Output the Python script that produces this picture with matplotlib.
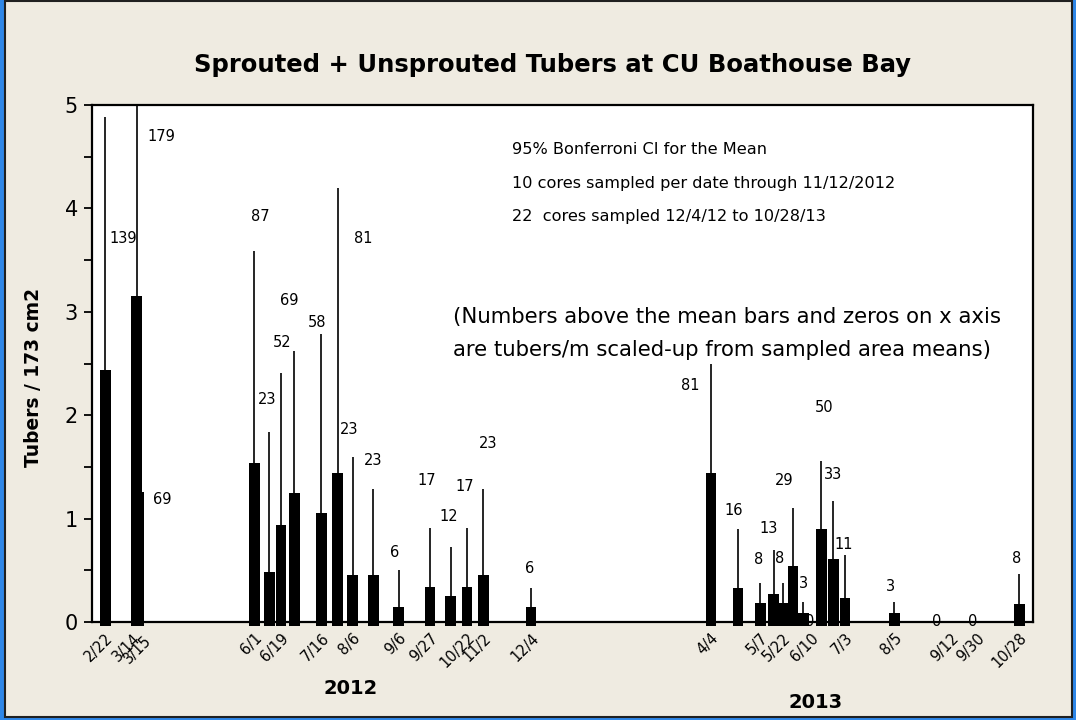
import matplotlib
matplotlib.use("Agg")
import matplotlib.pyplot as plt
import matplotlib.dates as mdates
from matplotlib.patches import Rectangle
from matplotlib.ticker import MultipleLocator
from matplotlib.transforms import ScaledTranslation
import pandas as pd

# ---------------- data ----------------
dates = ['2012-02-22', '2012-03-14', '2012-03-15', '2012-06-01', '2012-06-11',
         '2012-06-19', '2012-06-28', '2012-07-16', '2012-07-27', '2012-08-06',
         '2012-08-20', '2012-09-06', '2012-09-27', '2012-10-11', '2012-10-22',
         '2012-11-02', '2012-12-04', '2013-04-04', '2013-04-22', '2013-05-07',
         '2013-05-16', '2013-05-22', '2013-05-29', '2013-06-05', '2013-06-10',
         '2013-06-17', '2013-06-25', '2013-07-03', '2013-08-05', '2013-09-12',
         '2013-09-30', '2013-10-28']
means = [2.44, 3.15, 1.26, 1.54, 0.48, 0.94, 1.25, 1.05, 1.44, 0.45,
         0.45, 0.145, 0.34, 0.25, 0.34, 0.45, 0.145, 1.44, 0.33, 0.18,
         0.27, 0.18, 0.54, 0.084, 0.0, 0.90, 0.61, 0.23, 0.084, 0.0,
         0.0, 0.174]
ci_upper = [4.88, 5.6, 2.5, 3.59, 1.84, 2.41, 2.62, 2.79, 4.20, 1.60,
            1.29, 0.50, 0.91, 0.73, 0.91, 1.29, 0.33, 2.50, 0.90, 0.374,
            0.70, 0.374, 1.10, 0.197, 0.0, 1.557, 1.173, 0.648, 0.197, 0.0,
            0.0, 0.464]
count_labels = ['139', '179', '69', '87', '23', '52', '69', '58', '81', '23',
                '23', '6', '17', '12', '17', '23', '6', '81', '16', '8',
                '13', '8', '29', '3', '0', '50', '33', '11', '3', '0',
                '0', '8']
# label placement (days offset from the sample date, value on y axis)
label_dx_days = [11.6, 16.5, 16.0, 4.3, -1.7, 0.4, -3.5, -2.7, 17.3, -2.1,
                 0.0, -2.4, -2.2, -1.1, -1.9, 2.8, -0.7, -14.2, -2.6, -0.8,
                 -3.5, -1.7, -5.8, 0.4, -0.5, 1.9, 0.0, -1.1, -2.3, -9.4,
                 -3.2, -1.6]
label_y = [3.71, 4.70, 1.18, 3.92, 2.15, 2.70, 3.11, 2.90, 3.71, 1.86,
           1.56, 0.67, 1.37, 1.02, 1.31, 1.73, 0.52, 2.29, 1.08, 0.60,
           0.90, 0.61, 1.37, 0.37, 0.0, 2.07, 1.43, 0.75, 0.34, 0.0,
           0.0, 0.61]

tick_dates = ['2012-02-22', '2012-03-14', '2012-03-15', '2012-06-01', '2012-06-19',
              '2012-07-16', '2012-08-06', '2012-09-06', '2012-09-27', '2012-10-22',
              '2012-11-02', '2012-12-04', '2013-04-04', '2013-05-07', '2013-05-22',
              '2013-06-10', '2013-07-03', '2013-08-05', '2013-09-12', '2013-09-30',
              '2013-10-28']
tick_labels = ['2/22', '3/14', '3/15', '6/1', '6/19', '7/16', '8/6', '9/6', '9/27',
               '10/22', '11/2', '12/4', '4/4', '5/7', '5/22', '6/10', '7/3', '8/5',
               '9/12', '9/30', '10/28']

title = 'Sprouted + Unsprouted Tubers at CU Boathouse Bay'
ylabel = 'Tubers / 173 cm2'
notes_top = ['95% Bonferroni CI for the Mean',
             '10 cores sampled per date through 11/12/2012',
             '22  cores sampled 12/4/12 to 10/28/13']
notes_mid = ['(Numbers above the mean bars and zeros on x axis',
             'are tubers/m scaled-up from sampled area means)']

# ---------------- figure ----------------
W, H = 1076, 720
BG = '#EFEBE1'
fig = plt.figure(figsize=(W / 100, H / 100), dpi=100, facecolor=BG)


def fx(px):
    return px / W


def fy(py):
    return 1 - py / H


ax = fig.add_axes([fx(92), fy(622), fx(1033) - fx(92), fy(105) - fy(622)])
ax.set_facecolor('white')

x = mdates.date2num(pd.to_datetime(dates).to_pydatetime())
x0 = mdates.date2num(pd.Timestamp('2012-02-22').to_pydatetime())

# bars reach slightly below the axis line, as in the reference (zero means: no bar)
below = 0.035
heights = [m + below if m > 0 else 0 for m in means]
bottoms = [-below if m > 0 else 0 for m in means]
ax.bar(x, heights, bottom=bottoms, width=7.2, color='black',
       edgecolor='black', linewidth=0, align='center', clip_on=False, zorder=2)
ax.vlines(x, means, ci_upper, colors='black', linewidth=1.2, zorder=3)

for xi, lab, dx, ly in zip(x, count_labels, label_dx_days, label_y):
    ax.text(xi + dx, ly, lab, ha='center', va='center', fontsize=10.5,
            color='black', zorder=4, clip_on=False)

ax.set_xlim(x0 - 9.07, x0 + 623.3)
ax.set_ylim(0, 5)

tx = mdates.date2num(pd.to_datetime(tick_dates).to_pydatetime())
ax.set_xticks(tx)
ax.set_xticklabels(tick_labels, rotation=45, ha='right', va='top',
                   rotation_mode='anchor', fontsize=10.5)
ax.tick_params(axis='x', length=0, pad=6)
# separate the two crowded March labels a little
xt = ax.get_xticklabels()
xt[1].set_transform(xt[1].get_transform() + ScaledTranslation(-4 / 100, 0, fig.dpi_scale_trans))
xt[2].set_transform(xt[2].get_transform() + ScaledTranslation(5 / 100, -2 / 100, fig.dpi_scale_trans))

ax.yaxis.set_major_locator(MultipleLocator(1))
ax.yaxis.set_minor_locator(MultipleLocator(0.5))
ax.tick_params(axis='y', which='both', direction='out', length=6, width=1.3,
               labelsize=15, pad=4)
ax.set_ylabel(ylabel, fontsize=13.4, fontweight='bold')
ax.yaxis.set_label_coords((43 - 92) / (1033 - 92), (622 - 377) / (622 - 105))

for sp in ax.spines.values():
    sp.set_linewidth(1.6)
    sp.set_color('black')

# title and annotations
fig.text(fx(552), fy(65), title, ha='center', va='center', fontsize=17.5,
         fontweight='bold')
for i, s in enumerate(notes_top):
    fig.text(fx(512), fy(150 + 33.5 * i), s, ha='left', va='center', fontsize=11.6)
for i, s in enumerate(notes_mid):
    fig.text(fx(453), fy(317 + 33.5 * i), s, ha='left', va='center', fontsize=15.3)
fig.text(fx(351), fy(688), '2012', ha='center', va='center', fontsize=14,
         fontweight='bold')
fig.text(fx(816), fy(703), '2013', ha='center', va='center', fontsize=14,
         fontweight='bold')

# window frame
blue = '#2F87E8'
fig.patches.append(Rectangle((0, 0), fx(4), 1, transform=fig.transFigure,
                             facecolor=blue, edgecolor='none', zorder=0))
fig.patches.append(Rectangle((fx(1072), 0), fx(4), 1, transform=fig.transFigure,
                             facecolor=blue, edgecolor='none', zorder=0))
fig.patches.append(Rectangle((0, 0), 1, 3 / H, transform=fig.transFigure,
                             facecolor=blue, edgecolor='none', zorder=0))
fig.patches.append(Rectangle((fx(4.5), 3.5 / H), fx(1071.5) - fx(4.5), 1 - 4.5 / H,
                             transform=fig.transFigure, facecolor='none',
                             edgecolor='#202020', linewidth=1.5, zorder=1))

fig.savefig('out.png', dpi=100, facecolor=BG)
